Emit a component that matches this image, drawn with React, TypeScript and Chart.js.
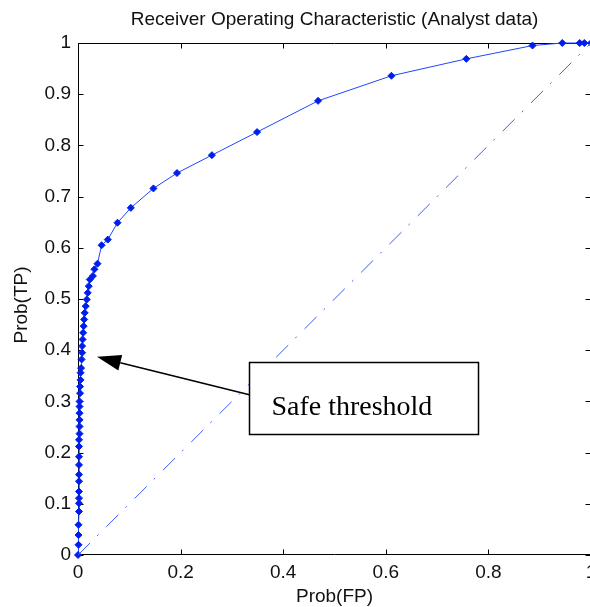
import React, { useEffect, useRef } from "react";
import { Chart, registerables } from "chart.js";

Chart.register(...registerables);

const TITLE = "Receiver Operating Characteristic (Analyst data)";
const X_LABEL = "Prob(FP)";
const Y_LABEL = "Prob(TP)";

// ROC curve: false-positive probability (x) and true-positive probability (y)
const probFP = [
  0, 0.001, 0.001, 0.001, 0.002, 0.002, 0.002, 0.002, 0.002, 0.002,
  0.002, 0.002, 0.002, 0.002, 0.003, 0.003, 0.003, 0.003, 0.003, 0.003,
  0.004, 0.004, 0.005, 0.005, 0.006, 0.007, 0.008, 0.008, 0.009, 0.010,
  0.011, 0.012, 0.013, 0.015, 0.017, 0.019, 0.021, 0.023, 0.029, 0.032,
  0.038, 0.046, 0.058, 0.077, 0.103, 0.147, 0.193, 0.261, 0.349, 0.468,
  0.611, 0.757, 0.886, 0.944, 0.978, 0.987, 1.0,
];
const probTP = [
  0, 0.020, 0.039, 0.059, 0.085, 0.101, 0.111, 0.124, 0.144, 0.157,
  0.176, 0.192, 0.212, 0.225, 0.237, 0.251, 0.264, 0.277, 0.290, 0.300,
  0.316, 0.329, 0.342, 0.356, 0.365, 0.382, 0.395, 0.408, 0.421, 0.434,
  0.447, 0.460, 0.473, 0.486, 0.499, 0.512, 0.525, 0.538, 0.545, 0.558,
  0.569, 0.605, 0.616, 0.649, 0.678, 0.716, 0.746, 0.781, 0.826, 0.887,
  0.936, 0.969, 0.995, 1.0, 1.0, 1.0, 1.0,
];

// chance diagonal
const diagX = [0, 1];
const diagY = [0, 1];

const xTicks = [0, 0.2, 0.4, 0.6, 0.8, 1];
const yTicks = [0, 0.1, 0.2, 0.3, 0.4, 0.5, 0.6, 0.7, 0.8, 0.9, 1];

// annotation (data units)
const NOTE_TEXT = "Safe threshold";
const arrowTip = { x: 0.037, y: 0.387 };
const arrowTail = { x: 0.334, y: 0.313 };
const noteBox = { x0: 0.334, x1: 0.780, y0: 0.237, y1: 0.376 };
const noteTextPos = { x: 0.377, y: 0.274 };

const SANS = "Arial, 'Liberation Sans', Helvetica, sans-serif";
const SERIF = "'Times New Roman', 'Liberation Serif', serif";

const fmt = (v: number) => String(Math.round(v * 10) / 10);

export default function App() {
  const ref = useRef<HTMLCanvasElement | null>(null);

  useEffect(() => {
    const canvas = ref.current;
    if (!canvas) return;

    const framePlugin = {
      id: "matlabFrame",
      beforeDatasetsDraw(chart: any) {
        const { ctx, chartArea } = chart;
        const xs = chart.scales.x;
        const ys = chart.scales.y;
        const l = Math.round(chartArea.left) + 0.5;
        const r = Math.round(chartArea.right) - 0.5;
        const t = Math.round(chartArea.top) + 0.5;
        const b = Math.round(chartArea.bottom) - 0.5;
        ctx.save();
        ctx.strokeStyle = "#000";
        ctx.lineWidth = 1;
        ctx.beginPath();
        ctx.rect(l, t, r - l, b - t);
        const tl = 5;
        xTicks.forEach((v) => {
          const px = Math.round(xs.getPixelForValue(v)) + 0.5;
          ctx.moveTo(px, b);
          ctx.lineTo(px, b - tl);
          ctx.moveTo(px, t);
          ctx.lineTo(px, t + tl);
        });
        yTicks.forEach((v) => {
          const py = Math.round(ys.getPixelForValue(v)) + 0.5;
          ctx.moveTo(l, py);
          ctx.lineTo(l + tl, py);
          ctx.moveTo(r, py);
          ctx.lineTo(r - tl, py);
        });
        ctx.stroke();
        ctx.restore();
      },
      afterDraw(chart: any) {
        const { ctx, chartArea } = chart;
        const xs = chart.scales.x;
        const ys = chart.scales.y;
        const cx = (chartArea.left + chartArea.right) / 2;
        ctx.save();
        ctx.fillStyle = "#111";
        ctx.font = `19px ${SANS}`;
        ctx.textAlign = "center";
        ctx.textBaseline = "middle";
        ctx.fillText(TITLE, cx, 20);
        ctx.fillText(X_LABEL, cx, 597);
        ctx.save();
        ctx.translate(22, (chartArea.top + chartArea.bottom) / 2 + 6);
        ctx.rotate(-Math.PI / 2);
        ctx.fillText(Y_LABEL, 0, 0);
        ctx.restore();

        // annotation box
        const bx0 = Math.round(xs.getPixelForValue(noteBox.x0)) + 0.5;
        const bx1 = Math.round(xs.getPixelForValue(noteBox.x1)) + 0.5;
        const by0 = Math.round(ys.getPixelForValue(noteBox.y1)) + 0.5;
        const by1 = Math.round(ys.getPixelForValue(noteBox.y0)) + 0.5;
        ctx.fillStyle = "#fff";
        ctx.fillRect(bx0, by0, bx1 - bx0, by1 - by0);
        ctx.strokeStyle = "#000";
        ctx.lineWidth = 1.5;
        ctx.strokeRect(bx0, by0, bx1 - bx0, by1 - by0);
        ctx.fillStyle = "#000";
        ctx.font = `28px ${SERIF}`;
        ctx.textAlign = "left";
        ctx.textBaseline = "alphabetic";
        ctx.fillText(
          NOTE_TEXT,
          xs.getPixelForValue(noteTextPos.x),
          ys.getPixelForValue(noteTextPos.y)
        );

        // arrow
        const tx = xs.getPixelForValue(arrowTip.x);
        const ty = ys.getPixelForValue(arrowTip.y);
        const sx = xs.getPixelForValue(arrowTail.x);
        const sy = ys.getPixelForValue(arrowTail.y);
        const ang = Math.atan2(ty - sy, tx - sx);
        const hl = 24;
        const hw = 8;
        const baseX = tx - hl * Math.cos(ang);
        const baseY = ty - hl * Math.sin(ang);
        ctx.lineWidth = 1.5;
        ctx.beginPath();
        ctx.moveTo(sx, sy);
        ctx.lineTo(baseX, baseY);
        ctx.stroke();
        ctx.beginPath();
        ctx.moveTo(tx, ty);
        ctx.lineTo(baseX + hw * Math.sin(ang), baseY - hw * Math.cos(ang));
        ctx.lineTo(baseX - hw * Math.sin(ang), baseY + hw * Math.cos(ang));
        ctx.closePath();
        ctx.fill();
        ctx.restore();
      },
    };

    const chart = new Chart(canvas, {
      type: "scatter",
      data: {
        datasets: [
          {
            label: "diagonal",
            data: diagX.map((x, i) => ({ x, y: diagY[i] })),
            showLine: true,
            borderColor: "rgb(60,90,255)",
            borderWidth: 1,
            borderDash: [17, 10, 2, 11],
            pointRadius: 0,
            clip: false,
          } as any,
          {
            label: "ROC",
            data: probFP.map((x, i) => ({ x, y: probTP[i] })),
            showLine: true,
            borderColor: "rgb(30,70,255)",
            borderWidth: 1,
            pointStyle: "rectRot",
            pointRadius: 3.5,
            pointBackgroundColor: "rgb(0,30,235)",
            pointBorderColor: "rgb(0,30,235)",
            pointBorderWidth: 1,
            clip: false,
          } as any,
        ],
      },
      options: {
        responsive: false,
        animation: false,
        devicePixelRatio: 1,
        layout: { padding: { left: 0, top: 43, right: 19, bottom: 0 } },
        plugins: {
          legend: { display: false },
          tooltip: { enabled: false },
          title: { display: false },
        },
        scales: {
          x: {
            type: "linear",
            min: 0,
            max: 1,
            afterFit: (s: any) => {
              s.height = 52;
            },
            afterBuildTicks: (s: any) => {
              s.ticks = xTicks.map((v) => ({ value: v }));
            },
            grid: { display: false, drawTicks: false },
            border: { display: false },
            ticks: {
              autoSkip: false,
              maxRotation: 0,
              padding: 6,
              color: "#111",
              font: { family: SANS, size: 19 },
              callback: (v: any) => fmt(Number(v)),
            },
          },
          y: {
            type: "linear",
            min: 0,
            max: 1,
            afterFit: (s: any) => {
              s.width = 78;
            },
            afterBuildTicks: (s: any) => {
              s.ticks = yTicks.map((v) => ({ value: v }));
            },
            grid: { display: false, drawTicks: false },
            border: { display: false },
            ticks: {
              autoSkip: false,
              padding: 7,
              color: "#111",
              font: { family: SANS, size: 19 },
              callback: (v: any) => fmt(Number(v)),
            },
          },
        },
      } as any,
      plugins: [framePlugin],
    });

    return () => chart.destroy();
  }, []);

  return (
    <div
      style={{
        position: "fixed",
        left: 0,
        top: 0,
        width: 590,
        height: 607,
        overflow: "hidden",
        background: "#fff",
      }}
    >
      <canvas ref={ref} width={610} height={607} style={{ width: 610, height: 607, display: "block" }} />
    </div>
  );
}
